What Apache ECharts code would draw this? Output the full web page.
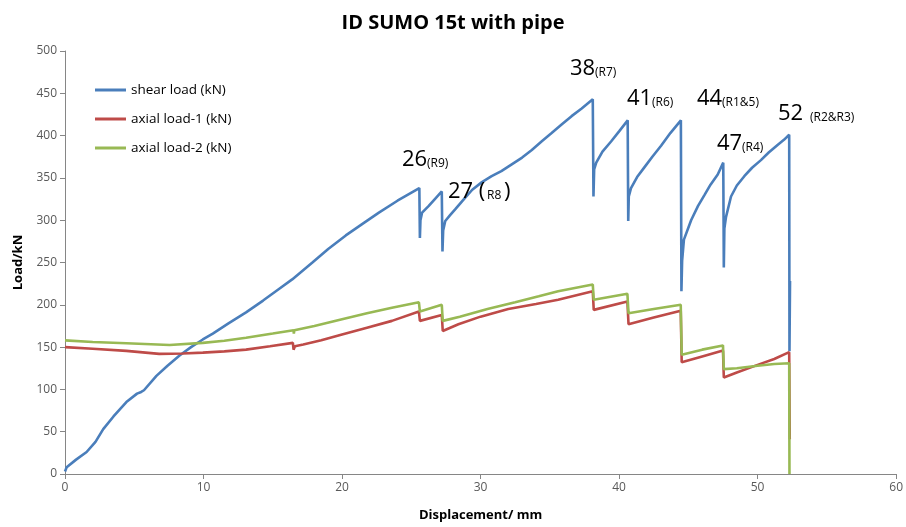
<!DOCTYPE html>
<html>
<head>
<meta charset="utf-8">
<script src="https://cdn.jsdelivr.net/npm/echarts@6/dist/echarts.min.js"></script>
<style>
  html, body { margin: 0; padding: 0; background: #fff; }
  #chart { width: 906px; height: 527px; }
</style>
</head>
<body>
<div id="chart"></div>
<script>
// Displacement (mm) vs load (kN) readings for each channel
const seriesNames = ['shear load (kN)', 'axial load-1 (kN)', 'axial load-2 (kN)'];

const shearLoad = [
  [0,3],[0.12,8],[0.8,17],[1.56,26],[2.2,38],[2.76,53],[3.5,68],[4.43,85],[5.2,95],[5.5,97],[5.7,99],
  [6.6,116],[7.4,128],[8.27,140],[9.1,150],[9.95,159],[10.67,166],[11.8,178],[13.07,191],[14.3,205],
  [15.47,219],[16.4,230],[17.86,250],[19,266],[20.27,282],[21.5,296],[22.66,309],[24,323],[25.58,338],
  [25.62,279],[25.66,300],[25.78,309],[26.26,317],[26.7,325],[27.2,334],
  [27.25,263],[27.3,288],[27.45,299],[27.8,306],[28.18,313],[28.8,325],[29.4,336],[30.1,345],[30.8,352],
  [31.5,358],[32.25,366],[33,374],[33.7,383],[34.4,393],[35.13,403],[35.85,413],[36.57,423],[37.3,432],[38.1,443],
  [38.15,328],[38.2,360],[38.35,368],[38.8,381],[39.42,393],[40,405],[40.62,418],
  [40.66,299],[40.7,328],[40.86,338],[41.3,351],[41.85,363],[42.4,375],[43.03,388],[43.7,403],[44.46,418],
  [44.5,216],[44.55,252],[44.68,277],[45.2,300],[45.7,317],[46.17,330],[46.6,342],[47.12,354],[47.52,368],
  [47.56,244],[47.6,290],[47.72,304],[48.08,328],[48.5,341],[49.04,352],[49.6,362],[50.24,371],[50.8,380],
  [51.44,389],[51.9,395],[52.28,401],[52.3,145],[52.34,228]
];

const axialLoad1 = [
  [0,150],[2,148],[4.43,145.5],[6.8,142],[8.5,142.5],[9.95,143.5],[11.5,145],[13.07,147],[14.8,151],
  [16.45,155],[16.5,147],[16.6,151],[17.2,153],[18.5,158],[20,165],[21.8,173],[23.6,181],[25.55,192],
  [25.62,181],[27.2,188],[27.27,169],[28.4,177],[30,186],[32,195],[34,201],[35.6,206],[38.1,216],
  [38.17,194],[40.6,204],[40.68,177],[42.5,185],[44.45,193],[44.52,132],[46,139],[47.5,146],
  [47.56,114],[48.5,120],[50,129],[51.2,136],[52.28,144],[52.32,41]
];

const axialLoad2 = [
  [0,158],[2,156],[4.43,154.5],[7.55,152.5],[9.95,155],[11.5,157.5],[13.07,161],[15,166],[16.5,170],
  [16.52,166],[16.56,170],[18,175],[20,183],[21.8,190],[23.6,196.5],[25.55,203],[25.62,192],[27.2,200],
  [27.27,181],[28.5,186],[30.5,195],[32.5,203],[34.2,210],[35.6,216],[38.1,224],[38.17,206],[40.6,213],
  [40.68,190],[42.5,195],[44.45,200],[44.52,141],[46,147],[47.5,152],[47.56,124],[48.5,125],[50,128],
  [51.2,130],[52.28,131],[52.3,0]
];

const xTicks = { min: 0, max: 60, step: 10 };
const yTicks = { min: 0, max: 500, step: 50 };

// Bolt-failure annotations: displacement number and the bolts involved
const notes = [
  { big: '26', small: '(R9)' },
  { big: '27 (', small: 'R8', tail: ')' },
  { big: '38', small: '(R7)' },
  { big: '41', small: '(R6)' },
  { big: '44', small: '(R1&5)' },
  { big: '47', small: '(R4)' },
  { big: '52', small: '(R2&R3)' }
];
// left edge and baseline of each annotation in px
const notePlace = [
  [402, 174], [448, 206], [570, 83], [627, 113], [697, 113], [717, 158], [778, 128]
];
const smallPlace = [427, 487, 595, 652, 722, 742, 810];

const colors = ['#4a7ebb', '#be4b48', '#98b954'];
const FONT = '"Open Sans", "Noto Sans", sans-serif';
const axisGrey = '#868686';
const labelGrey = '#595959';

const chart = echarts.init(document.getElementById('chart'), null, { renderer: 'canvas' });

const graphics = [];
notes.forEach((n, i) => {
  const [x, y] = notePlace[i];
  graphics.push({
    type: 'text', left: x, top: y - 25, z: 100,
    style: { text: n.big, font: '22px ' + FONT, fill: '#000' }
  });
  graphics.push({
    type: 'text', left: smallPlace[i], top: y - 16, z: 100,
    style: { text: n.small, font: '12px ' + FONT, fill: '#000' }
  });
  if (n.tail) {
    graphics.push({
      type: 'text', left: smallPlace[i] + 17, top: y - 25, z: 100,
      style: { text: n.tail, font: '22px ' + FONT, fill: '#000' }
    });
  }
});

const lineSeries = [shearLoad, axialLoad1, axialLoad2].map((d, i) => ({
  name: seriesNames[i],
  type: 'line',
  data: d,
  showSymbol: false,
  symbol: 'none',
  smooth: false,
  lineStyle: { width: 2.6, color: colors[i] },
  itemStyle: { color: colors[i] },
  animation: false,
  z: 2 + i
}));

chart.setOption({
  animation: false,
  backgroundColor: '#fff',
  title: {
    text: 'ID SUMO 15t with pipe',
    left: 'center',
    top: 8,
    textStyle: { fontFamily: FONT, fontSize: 20, fontWeight: 'bold', color: '#000' }
  },
  legend: {
    orient: 'vertical',
    left: 90,
    top: 76,
    icon: 'rect',
    itemWidth: 31,
    itemHeight: 3,
    itemGap: 11,
    textStyle: { fontFamily: FONT, fontSize: 13.5, color: '#000', lineHeight: 18 },
    data: seriesNames
  },
  grid: { left: 65, right: 7, top: 51, bottom: 52, containLabel: false },
  xAxis: {
    type: 'value',
    min: xTicks.min, max: xTicks.max, interval: xTicks.step,
    name: 'Displacement/ mm',
    nameLocation: 'middle',
    nameGap: 35,
    nameTextStyle: { fontFamily: FONT, fontSize: 13, fontWeight: 'bold', color: '#000' },
    axisLine: { show: true, lineStyle: { color: axisGrey, width: 1 } },
    axisTick: { show: true, length: 5, lineStyle: { color: axisGrey } },
    axisLabel: { fontFamily: FONT, fontSize: 12, color: labelGrey, margin: 8 },
    splitLine: { show: false }
  },
  yAxis: {
    type: 'value',
    min: yTicks.min, max: yTicks.max, interval: yTicks.step,
    name: 'Load/kN',
    nameLocation: 'middle',
    nameGap: 40,
    nameRotate: 90,
    nameTextStyle: { fontFamily: FONT, fontSize: 13, fontWeight: 'bold', color: '#000' },
    axisLine: { show: true, lineStyle: { color: axisGrey, width: 1 } },
    axisTick: { show: true, length: 5, lineStyle: { color: axisGrey } },
    axisLabel: { fontFamily: FONT, fontSize: 12, color: labelGrey, margin: 8 },
    splitLine: { show: false }
  },
  graphic: graphics,
  series: lineSeries
});
</script>
</body>
</html>
